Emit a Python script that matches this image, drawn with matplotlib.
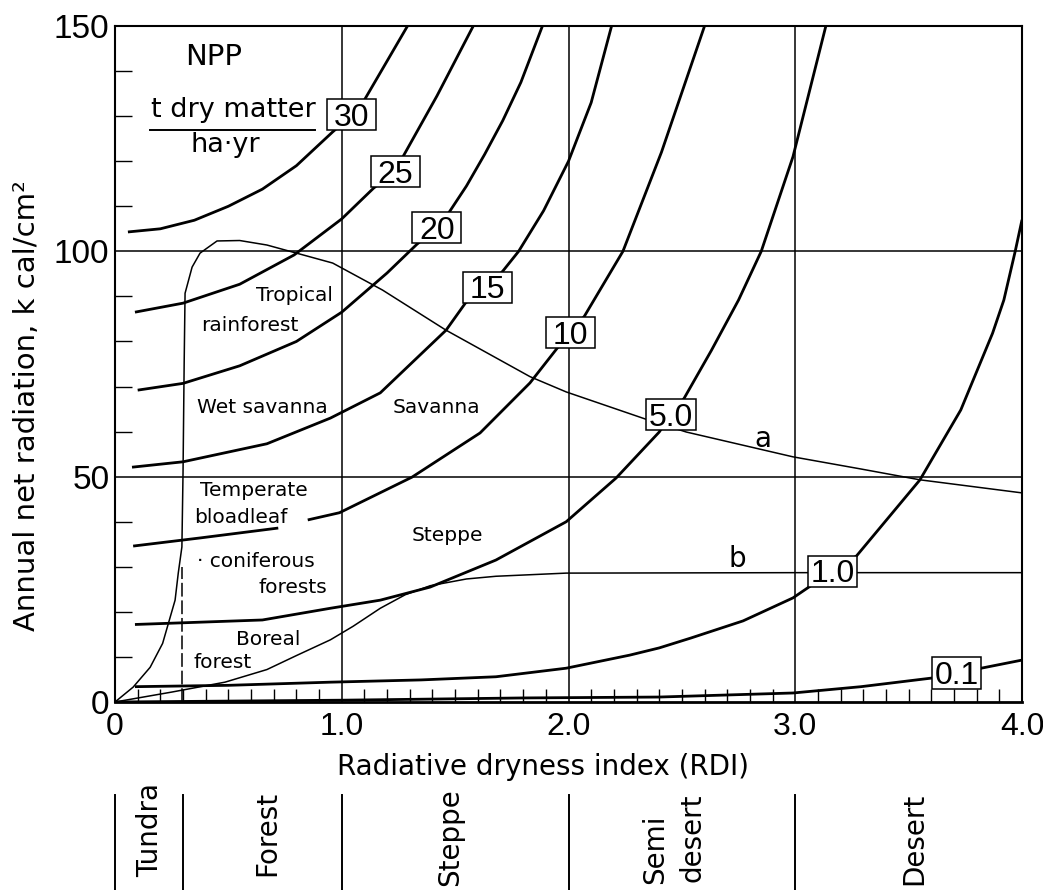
import numpy as np
import matplotlib
matplotlib.use("Agg")
import matplotlib.pyplot as plt
from matplotlib.path import Path
from matplotlib.ticker import MultipleLocator

# ---------------- data ----------------
x_ticks = [0, 1, 2, 3, 4]
x_tick_labels = ["0", "1.0", "2.0", "3.0", "4.0"]
y_ticks = [0, 50, 100, 150]
y_tick_labels = ["0", "50", "100", "150"]
grid_x = [1.0, 2.0, 3.0]
grid_y = [50, 100]

# NPP isolines (t dry matter / ha.yr)
npp30_x = [0.057, 0.20, 0.35, 0.50, 0.65, 0.80, 0.96, 1.04, 1.10, 1.18, 1.29]
npp30_y = [104.3, 105.0, 106.9, 110.0, 113.8, 119.0, 126.5, 130.0, 133.6, 140.5, 150.0]

npp25_x = [0.088, 0.30, 0.55, 0.79, 1.00, 1.14, 1.24, 1.27, 1.42, 1.58]
npp25_y = [86.5, 88.5, 92.7, 99.2, 107.2, 114.0, 118.0, 121.0, 134.5, 150.0]

npp20_x = [0.10, 0.30, 0.55, 0.80, 1.00, 1.20, 1.33, 1.42, 1.47, 1.55, 1.63, 1.71, 1.79, 1.885]
npp20_y = [69.2, 70.7, 74.6, 80.0, 86.5, 95.2, 101.5, 105.3, 108.4, 114.5, 121.5, 129.0, 137.5, 150.0]

npp15_x = [0.075, 0.30, 0.67, 0.95, 1.17, 1.46, 1.545, 1.64, 1.71, 1.78, 1.89, 2.00, 2.10, 2.19]
npp15_y = [52.1, 53.3, 57.3, 63.0, 68.6, 82.5, 88.5, 92.0, 95.6, 100.0, 109.0, 120.0, 133.0, 150.0]

npp10_x = [0.08, 0.375, 0.72, 0.78, 0.85, 0.99, 1.31, 1.61, 1.83, 1.95, 2.007, 2.07, 2.24, 2.41, 2.60]
npp10_y = [34.6, 36.4, 38.6, np.nan, 40.4, 42.0, 49.9, 59.7, 70.8, 78.5, 82.0, 85.6, 100.0, 122.0, 150.0]

npp5_x = [0.088, 0.65, 0.95, 1.17, 1.39, 1.68, 1.99, 2.21, 2.40, 2.455, 2.51, 2.63, 2.75, 2.85, 2.99, 3.135]
npp5_y = [17.2, 18.2, 20.8, 22.6, 25.5, 31.5, 40.0, 49.7, 59.9, 63.9, 67.4, 78.0, 89.2, 100.0, 121.0, 150.0]

npp1_x = [0.088, 0.50, 0.95, 1.35, 1.68, 1.99, 2.27, 2.40, 2.54, 2.77, 2.99, 3.06, 3.164, 3.27, 3.55, 3.73,
          3.87, 3.92, 3.97, 4.00]
npp1_y = [3.4, 3.7, 4.4, 4.9, 5.6, 7.5, 10.4, 12.0, 14.2, 18.0, 23.1, 25.5, 29.0, 32.4, 49.3, 64.8,
          81.8, 89.2, 100.0, 107.0]

npp01_x = [0.0, 1.0, 1.8, 2.4, 2.99, 3.29, 3.60, 3.713, 3.82, 4.0]
npp01_y = [0.0, 0.4, 0.9, 1.1, 2.0, 3.4, 5.3, 6.5, 7.5, 9.3]

# boundary curve "a"
curve_a_x = [0.0, 0.08, 0.155, 0.21, 0.265, 0.279, 0.295, 0.30, 0.305, 0.309, 0.34, 0.375, 0.45, 0.55, 0.67,
             0.96, 1.18, 1.46, 1.83, 1.99, 2.35, 2.52, 2.99, 3.29, 3.55, 4.0]
curve_a_y = [0.0, 3.3, 7.7, 13.0, 22.6, 28.6, 34.4, 50.8, 75.0, 90.7, 96.5, 99.6, 102.3, 102.4, 101.4,
             97.4, 91.4, 82.5, 72.2, 68.8, 62.6, 59.9, 54.4, 51.7, 49.3, 46.4]

# curve "b"
curve_b_x = [0.0, 0.25, 0.485, 0.67, 0.80, 0.95, 1.05, 1.17, 1.28, 1.39, 1.55, 1.68, 1.99, 3.0, 4.0]
curve_b_y = [0.0, 2.2, 4.4, 7.2, 10.3, 13.8, 16.8, 20.8, 23.8, 25.8, 27.3, 27.9, 28.6, 28.7, 28.7]

dash_x = [0.295, 0.295]
dash_y = [0.0, 30.0]

# contour labels (text, x, y)
box_labels = ["30", "25", "20", "15", "10", "5.0", "1.0", "0.1"]
box_x = [1.043, 1.237, 1.42, 1.641, 2.007, 2.452, 3.164, 3.713]
box_y = [130.4, 117.8, 105.3, 92.1, 82.1, 63.9, 29.1, 6.5]

# region labels (text, x-center, baseline y)
region_labels = ["Tropical", "rainforest", "Wet savanna", "Savanna", "Temperate", "bloadleaf",
                 "\u00b7 coniferous", "forests", "Steppe", "Boreal", "forest"]
region_x = [0.79, 0.593, 0.65, 1.416, 0.613, 0.556, 0.62, 0.783, 1.466, 0.677, 0.476]
region_y = [89.0, 82.3, 64.1, 64.1, 45.8, 39.7, 29.9, 24.2, 35.8, 12.6, 7.5]

# bottom band of zones
zone_edges = [0.0, 0.3, 1.0, 2.0, 3.0]
zone_labels = ["Tundra", "Forest", "Steppe", "Semi", "desert", "Desert"]
zone_label_x = [0.191, 0.706, 1.514, 2.418, 2.584, 3.558]
zone_label_top = [107, 99, 102, 76, 96, 97]   # band units (px from figure bottom)

# ---------------- figure ----------------
W, H = 1043, 890
fig = plt.figure(figsize=(W / 100, H / 100), dpi=100)
ax_l, ax_b, ax_w, ax_h = 115 / W, 188 / H, 907 / W, 676 / H
ax = fig.add_axes([ax_l, ax_b, ax_w, ax_h])
ax.set_xlim(0, 4)
ax.set_ylim(0, 150)

for s in ["left", "right", "top"]:
    ax.spines[s].set_linewidth(1.5)
ax.spines["bottom"].set_linewidth(2.0)

tick_font = ["Liberation Sans Narrow", "Liberation Sans", "DejaVu Sans"]
ax.set_xticks(x_ticks)
ax.set_xticklabels(x_tick_labels, fontsize=23, family=tick_font)
ax.set_yticks(y_ticks)
ax.set_yticklabels(y_tick_labels, fontsize=24, family=tick_font)
ax.xaxis.set_minor_locator(MultipleLocator(0.1))
ax.yaxis.set_minor_locator(MultipleLocator(10))
ax.tick_params(axis="x", which="major", length=0, pad=7)
ax.tick_params(axis="y", which="major", length=0, pad=4)
ax.tick_params(axis="x", which="minor", direction="in", length=9.5, width=1.0)
ax.tick_params(axis="y", which="minor", direction="in", length=12, width=1.0)

for gx in grid_x:
    ax.axvline(gx, color="black", lw=1.1, zorder=1)
for gy in grid_y:
    ax.axhline(gy, color="black", lw=1.1, zorder=1)

thick = 2.0
for xs, ys in [(npp30_x, npp30_y), (npp25_x, npp25_y), (npp20_x, npp20_y), (npp15_x, npp15_y),
               (npp10_x, npp10_y), (npp5_x, npp5_y), (npp1_x, npp1_y), (npp01_x, npp01_y)]:
    ax.plot(xs, ys, color="black", lw=thick, solid_capstyle="butt", solid_joinstyle="round", zorder=2)

ax.plot(curve_a_x, curve_a_y, color="black", lw=1.1, solid_joinstyle="round", zorder=2)
ax.plot(curve_b_x, curve_b_y, color="black", lw=1.1, solid_joinstyle="round", zorder=2)
ax.plot(dash_x, dash_y, color="black", lw=1.1, dashes=(9, 2.5), zorder=2)


def fixed_box(w_pt, h_pt, fs_pt):
    def style(x0, y0, width, height, mutation_size):
        ppt = mutation_size / fs_pt
        w = w_pt * ppt
        h = h_pt * ppt
        cx = x0 + width / 2.0
        cy = y0 + 0.57 * mutation_size
        verts = [(cx - w / 2, cy - h / 2), (cx + w / 2, cy - h / 2),
                 (cx + w / 2, cy + h / 2), (cx - w / 2, cy + h / 2),
                 (cx - w / 2, cy - h / 2)]
        codes = [Path.MOVETO, Path.LINETO, Path.LINETO, Path.LINETO, Path.CLOSEPOLY]
        return Path(verts, codes)
    return style


box_fs = 23
for lab, bx, by in zip(box_labels, box_x, box_y):
    ax.text(bx, by, lab, fontsize=box_fs, family=["Liberation Sans", "DejaVu Sans"],
            ha="center", va="center_baseline", zorder=6,
            bbox=dict(boxstyle=fixed_box(35.3, 22.5, box_fs), facecolor="white",
                      edgecolor="black", linewidth=1.1))

for lab, rx, ry in zip(region_labels, region_x, region_y):
    ax.text(rx, ry, lab, fontsize=14.5, ha="center", va="baseline", zorder=4)

ax.text(2.856, 56.6, "a", fontsize=20, ha="center", va="baseline", zorder=4)
ax.text(2.745, 30.0, "b", fontsize=20, ha="center", va="baseline", zorder=4)

# NPP unit annotation
ax.text(0.437, 141.3, "NPP", fontsize=21, ha="center", va="baseline")
ax.text(0.523, 129.8, "t dry matter", fontsize=19.5, ha="center", va="baseline")
ax.plot([0.154, 0.882], [126.9, 126.9], color="black", lw=1.4)
ax.text(0.485, 122.0, "ha\u00b7yr", fontsize=19.5, ha="center", va="baseline")

# axis labels
fig.text(543 / W, 1 - 775 / H, "Radiative dryness index (RDI)", fontsize=20,
         ha="center", va="baseline")
fig.text(35 / W, 1 - 406 / H, "Annual net radiation, k cal/cm\u00b2", fontsize=21,
         rotation=90, rotation_mode="anchor", ha="center", va="baseline")

# bottom zone band
band = fig.add_axes([ax_l, 0.0, ax_w, 95 / H])
band.set_xlim(0, 4)
band.set_ylim(0, 95)
band.axis("off")
for ze in zone_edges:
    band.plot([ze, ze], [0, 95], color="black", lw=1.4, clip_on=False)
for lab, zx, zt in zip(zone_labels, zone_label_x, zone_label_top):
    band.text(zx, zt, lab, fontsize=20, rotation=90, rotation_mode="anchor",
              ha="right", va="baseline", clip_on=False)

fig.savefig("out.png", dpi=100)
